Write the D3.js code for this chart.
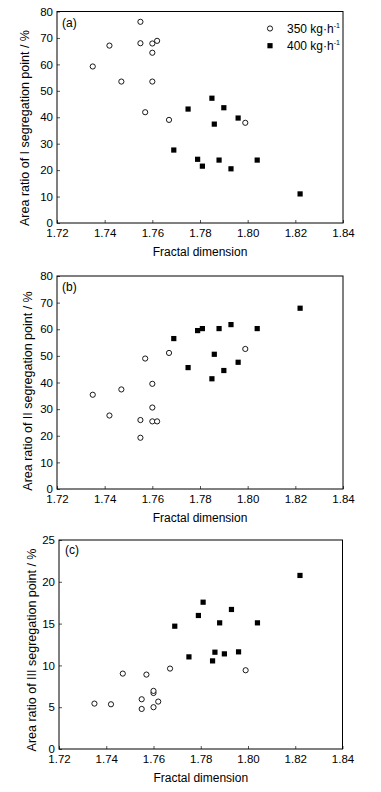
<!DOCTYPE html>
<html><head><meta charset="utf-8">
<script src="https://cdn.jsdelivr.net/npm/d3@7"></script>
<style>
html,body{margin:0;padding:0;background:#fff;}
text{font-family:"Liberation Sans",Arial,sans-serif;fill:#000;}
</style></head>
<body><svg id="c" width="381" height="792"></svg>
<script>
// ---- data ----
const xTicks = [1.72, 1.74, 1.76, 1.78, 1.80, 1.82, 1.84];
const x350 = [1.735, 1.742, 1.747, 1.755, 1.755, 1.757, 1.760, 1.760, 1.760, 1.762, 1.767, 1.799];
const x400 = [1.769, 1.775, 1.779, 1.781, 1.785, 1.786, 1.788, 1.790, 1.793, 1.796, 1.804, 1.822];
const yA350 = [59.2, 67.1, 53.5, 76.1, 68.0, 41.9, 67.9, 64.4, 53.5, 68.9, 39.0, 37.9];
const yA400 = [27.6, 43.1, 24.1, 21.5, 47.2, 37.4, 23.8, 43.6, 20.5, 39.7, 23.8, 11.0];
const yB350 = [35.4, 27.6, 37.4, 19.25, 25.9, 49.0, 25.4, 30.6, 39.5, 25.4, 51.1, 52.6];
const yB400 = [56.5, 45.6, 59.5, 60.25, 41.4, 50.6, 60.25, 44.5, 61.75, 47.6, 60.25, 67.9];
const yC350 = [5.43, 5.35, 9.02, 4.79, 5.95, 8.9, 6.7, 5.0, 6.95, 5.67, 9.62, 9.42];
const yC400 = [14.69, 11.02, 15.97, 17.56, 10.54, 11.58, 15.09, 11.38, 16.69, 11.62, 15.09, 20.76];
const yTicksAB = [0, 10, 20, 30, 40, 50, 60, 70, 80];
const yTicksC = [0, 5, 10, 15, 20, 25];
const seriesNames = ["350 kg\u00b7h", "400 kg\u00b7h"];
const yTitles = ["Area ratio of I segregation point / %", "Area ratio of II segregation point / %", "Area ratio of III segregation point / %"];
const panelLabels = ["(a)", "(b)", "(c)"];
const xTitle = "Fractal dimension";

const panels = [
  {l:57, r:343, t:11.5, b:223, ymax:80, yt:yTicksAB, y350:yA350, y400:yA400, title:yTitles[0], lab:panelLabels[0], tx:25, ty:128, lx:62, ly:27, xty:256, legend:true},
  {l:57, r:343, t:276, b:489, ymax:80, yt:yTicksAB, y350:yB350, y400:yB400, title:yTitles[1], lab:panelLabels[1], tx:28, ty:391, lx:62, ly:291, xty:522},
  {l:59, r:342.5, t:540, b:749, ymax:25, yt:yTicksC, y350:yC350, y400:yC400, title:yTitles[2], lab:panelLabels[2], tx:32, ty:650, lx:65, ly:554, xty:782}
];

const svg = d3.select("#c");

panels.forEach(p => {
  const x = d3.scaleLinear().domain([1.72, 1.84]).range([p.l, p.r]);
  const y = d3.scaleLinear().domain([0, p.ymax]).range([p.b, p.t]);
  const g = svg.append("g");

  const xa = g.append("g").attr("transform", `translate(0,${p.b})`)
    .call(d3.axisBottom(x).tickValues(xTicks).tickFormat(d3.format(".2f")).tickSize(-3).tickPadding(6));
  const ya = g.append("g").attr("transform", `translate(${p.l},0)`)
    .call(d3.axisLeft(y).tickValues(p.yt).tickFormat(d3.format("d")).tickSize(-3).tickPadding(4));
  [xa, ya].forEach(a => {
    a.select(".domain").remove();
    a.selectAll("line").attr("stroke", "#555");
    a.selectAll("text").style("font-size", "11.5px").style("font-family", '"Liberation Sans",Arial,sans-serif');
  });

  g.append("rect").attr("x", p.l).attr("y", p.t).attr("width", p.r - p.l).attr("height", p.b - p.t)
    .attr("fill", "none").attr("stroke", "#000").attr("stroke-width", 1);

  g.append("text").attr("x", (p.l + p.r) / 2).attr("y", p.xty)
    .attr("text-anchor", "middle").style("font-size", "12px").text(xTitle);

  g.append("text").attr("transform", `translate(${p.tx},${p.ty}) rotate(-90)`)
    .attr("text-anchor", "middle").attr("dy", "0.35em").style("font-size", "12.5px").text(p.title);

  g.append("text").attr("x", p.lx).attr("y", p.ly).style("font-size", "12px").text(p.lab);

  g.selectAll("circle.s350").data(x350.map((v, i) => [v, p.y350[i]])).join("circle")
    .attr("class", "s350").attr("cx", d => x(d[0])).attr("cy", d => y(d[1])).attr("r", 2.6)
    .attr("fill", "#fff").attr("stroke", "#000").attr("stroke-width", 0.9);
  g.selectAll("rect.s400").data(x400.map((v, i) => [v, p.y400[i]])).join("rect")
    .attr("class", "s400").attr("x", d => x(d[0]) - 2.6).attr("y", d => y(d[1]) - 2.6)
    .attr("width", 5.2).attr("height", 5.2).attr("fill", "#000");

  if (p.legend) {
    const lg = g.append("g");
    lg.append("circle").attr("cx", 270).attr("cy", 28.5).attr("r", 2.6)
      .attr("fill", "#fff").attr("stroke", "#000").attr("stroke-width", 0.9);
    lg.append("rect").attr("x", 267.4).attr("y", 43.1).attr("width", 5.2).attr("height", 5.2).attr("fill", "#000");
    seriesNames.forEach((s, i) => {
      const t = lg.append("text").attr("x", 287).attr("y", 32.8 + i * 17.2).style("font-size", "12px");
      t.append("tspan").text(s);
      t.append("tspan").attr("dy", "-5").style("font-size", "7px").text("-1");
    });
  }
});
</script></body></html>
